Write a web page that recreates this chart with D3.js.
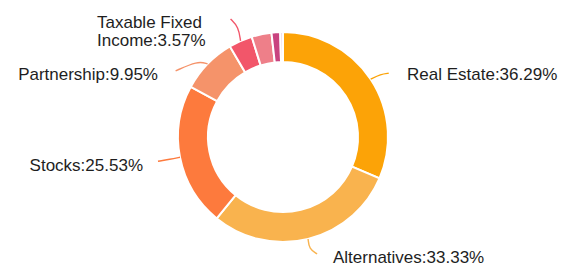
<!DOCTYPE html>
<html>
<head>
<meta charset="utf-8">
<script src="https://cdn.jsdelivr.net/npm/d3@7"></script>
<style>
  html, body { margin: 0; padding: 0; background: #fff; }
  svg { display: block; }
</style>
</head>
<body>
<svg id="chart" width="561" height="267"></svg>
<script>
// ---- data ----
const categories = ["Real Estate", "Alternatives", "Stocks", "Partnership", "Taxable Fixed Income", "Other A", "Other B", "Other C"];
const labelTexts = ["Real Estate:36.29%", "Alternatives:33.33%", "Stocks:25.53%", "Partnership:9.95%", "Taxable Fixed Income:3.57%", "", "", ""];
// arc shares (degrees of the ring)
const values = [113, 105.7, 79.3, 31, 13, 11, 4.8, 1.5];
const colors = ["#fca307", "#f9b34e", "#fd7a3d", "#f5936a", "#f2566a", "#ee7f89", "#c9437f", "#ead0e2"];

// ---- layout ----
const W = 561, H = 267;
const cx = 283, cy = 137, rOuter = 105, rInner = 75;
const svg = d3.select("#chart");
const g = svg.append("g").attr("transform", `translate(${cx},${cy})`);

const pie = d3.pie().sort(null).value(d => d)(values);
const arc = d3.arc().innerRadius(rInner).outerRadius(rOuter);

g.selectAll("path.slice")
  .data(pie)
  .join("path")
  .attr("class", "slice")
  .attr("d", arc)
  .attr("fill", (d, i) => colors[i])
  .attr("stroke", "#fff")
  .attr("stroke-width", 2);

// label placement (layout only)
const labelLayout = [
  {elbow: [10, -5], end: [8, -1], tx: 407, ty: 80, anchor: "start"},
  {elbow: [1, 10], end: [8, 5], tx: 333, ty: 263, anchor: "start"},
  {elbow: [-10, 2], end: [-12, 2], tx: 143, ty: 171, anchor: "end"},
  {elbow: [-10, -3], end: [-22, 10], tx: 158, ty: 80, anchor: "end"},
  {elbow: [-2, -14], end: [-8, -8], tx: 97, ty: 28, anchor: "start"}
];

const line = d3.line().curve(d3.curveBasis);
labelLayout.forEach((L, i) => {
  const d = pie[i];
  const mid = (d.startAngle + d.endAngle) / 2;
  const p0 = [Math.sin(mid) * rOuter, -Math.cos(mid) * rOuter];
  const p1 = [p0[0] + L.elbow[0], p0[1] + L.elbow[1]];
  const p2 = [p1[0] + L.end[0], p1[1] + L.end[1]];
  g.append("path")
    .attr("d", line([p0, p1, p2]))
    .attr("fill", "none")
    .attr("stroke", colors[i])
    .attr("stroke-width", 1.4);
  const text = svg.append("text")
    .attr("x", L.tx)
    .attr("y", L.ty)
    .attr("text-anchor", L.anchor)
    .attr("font-family", "Liberation Sans, Arial, Helvetica, sans-serif")
    .attr("font-size", 17)
    .attr("fill", "#1e1e1e");
  if (i === 4) {
    const parts = labelTexts[i].split(" ");
    text.append("tspan").attr("x", L.tx).text(parts.slice(0, 2).join(" "));
    text.append("tspan").attr("x", L.tx).attr("dy", 18).text(parts[2]);
  } else {
    text.text(labelTexts[i]);
  }
});
</script>
</body>
</html>
